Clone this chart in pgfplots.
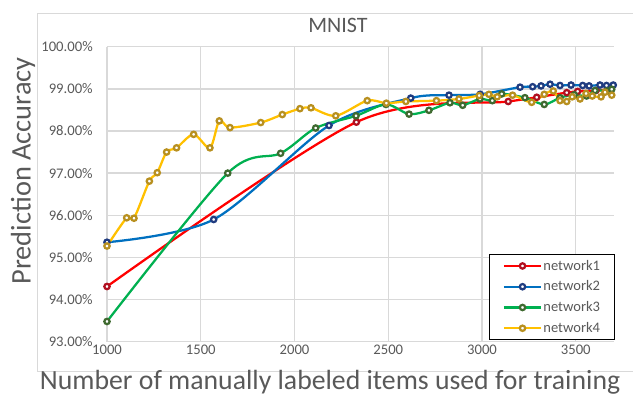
\documentclass[border=0pt]{standalone}
\usepackage{pgfplots}
\pgfplotsset{compat=1.18}
\usepackage{fontspec}
\setmainfont{Carlito}
\definecolor{txt}{HTML}{595959}
\definecolor{grd}{HTML}{D9D9D9}
\definecolor{bord}{HTML}{D9D9D9}
\definecolor{nred}{HTML}{FF0000}\definecolor{nredd}{HTML}{B01020}
\definecolor{nblue}{HTML}{0070C0}\definecolor{nblued}{HTML}{203C80}
\definecolor{ngreen}{HTML}{00B050}\definecolor{ngreend}{HTML}{3F6A30}
\definecolor{nyel}{HTML}{FFC000}\definecolor{nyeld}{HTML}{B89020}
\begin{document}
\begin{tikzpicture}
\path[use as bounding box] (-80.25pt,-41.475pt) rectangle (394.5pt,256.275pt);
\draw[bord, line width=0.75pt] (394.5pt,246.5pt) -- (-51.75pt,246.5pt) -- (-51.75pt,-21.975pt) -- (394.5pt,-21.975pt);
\begin{axis}[
  at={(0,0)}, anchor=south west,
  scale only axis, width=380.25pt, height=221.25pt,
  xmin=1000, xmax=3704, ymin=93, ymax=100,
  xtick={1000,1500,...,3500}, ytick={93,94,...,100},
  grid=major, major grid style={grd, line width=1pt},
  axis line style={draw=none},
  major tick length=0pt,
  /pgf/number format/assume math mode=true,
  tick label style={font=\fontsize{11}{12}\selectfont, text=txt, inner sep=0pt},
  yticklabel style={anchor=east, xshift=-10.5pt},
  xticklabel style={anchor=north, yshift=-2pt},
  xticklabel={\pgfmathprintnumber[fixed,1000 sep={}]{\tick}},
  yticklabel={\pgfmathprintnumber[fixed,fixed zerofill,precision=2]{\tick}\%},
  title={MNIST},
  title style={at={(axis description cs:0.4556,1.0203)}, anchor=base, font=\fontsize{16.5}{18}\selectfont, text=txt, inner sep=0pt},
  xlabel={Number of manually labeled items used for training},
  xlabel style={at={(axis description cs:0.44,-0.162)}, anchor=base, font=\fontsize{20.8}{24}\selectfont, text=txt, inner sep=0pt},
  ylabel={Prediction Accuracy},
  ylabel style={at={(axis description cs:-0.1657,0.5786)}, anchor=center, rotate=0, font=\fontsize{21.3}{24}\selectfont, text=txt, inner sep=0pt},
  legend style={at={(axis description cs:0.7535,0.297)}, anchor=north west, draw=black, line width=0.75pt, fill=white,
    font=\fontsize{10.9}{12}\selectfont, text=txt, inner xsep=10pt, inner ysep=3pt, row sep=4.5pt,
    nodes={inner sep=1pt}},
  legend cell align=left,
  legend image code/.code={
    \draw[#1, mark=none] (0pt,0pt) -- (27.75pt,0pt);
    \draw[#1, only marks] plot coordinates {(13.9pt,0pt)};
  },
  every axis plot/.append style={line width=1.7pt, smooth, mark=*, mark size=2pt,
    mark options={fill=white, line width=0.9pt}},
]
\addplot[nred, mark options={draw=nredd, fill=white}] coordinates {
(1000,94.31) (2330,98.21) (3140,98.70) (3292,98.80) (3452,98.91) (3510,98.94) (3608,98.96) (3686,98.99)
};
\addlegendentry{network1}
\addplot[nblue, mark options={draw=nblued, fill=white}] coordinates {
(1000,95.36) (1569,95.90) (2184,98.13) (2620,98.78) (2824,98.85) (2990,98.87) (3203,99.04) (3270,99.05) (3315,99.07) (3363,99.11) (3416,99.08) (3475,99.09) (3537,99.08) (3571,99.07) (3629,99.09) (3664,99.08) (3700,99.09)
};
\addlegendentry{network2}
\addplot[ngreen, mark options={draw=ngreend, fill=white}] coordinates {
(1000,93.48) (1644,97.00) (1926,97.47) (2113,98.07) (2328,98.36) (2488,98.63) (2611,98.40) (2717,98.49) (2829,98.67) (2897,98.61) (2989,98.76) (3055,98.72) (3105,98.88) (3229,98.79) (3332,98.63) (3416,98.79) (3492,98.86) (3558,98.83) (3603,98.96) (3665,98.95) (3692,98.99)
};
\addlegendentry{network3}
\addplot[nyel, mark options={draw=nyeld, fill=white}] coordinates {
(1000,95.27) (1105,95.94) (1144,95.93) (1226,96.81) (1268,97.01) (1318,97.50) (1371,97.60) (1462,97.92) (1549,97.60) (1599,98.24) (1656,98.08) (1820,98.20) (1935,98.39) (2029,98.53) (2088,98.55) (2220,98.36) (2388,98.72) (2490,98.66) (2594,98.70) (2757,98.72) (2877,98.76) (2985,98.84) (3037,98.87) (3081,98.81) (3163,98.85) (3265,98.68) (3332,98.87) (3380,98.95) (3416,98.72) (3452,98.70) (3481,98.81) (3523,98.76) (3555,98.89) (3588,98.83) (3635,98.81) (3656,98.92) (3692,98.85)
};
\addlegendentry{network4}
\end{axis}
\end{tikzpicture}
\end{document}
